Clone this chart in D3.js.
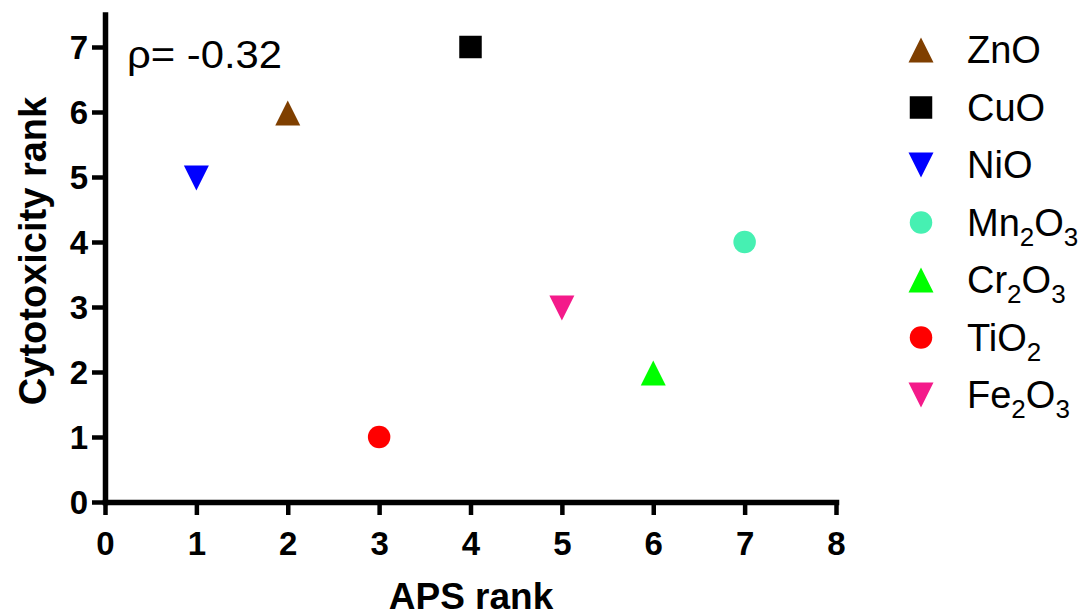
<!DOCTYPE html>
<html>
<head>
<meta charset="utf-8">
<script src="https://cdn.jsdelivr.net/npm/d3@7"></script>
<style>
  html, body { margin: 0; padding: 0; background: #fff; }
  svg { display: block; font-family: "Liberation Sans", Arial, sans-serif; }
</style>
</head>
<body>
<svg id="chart" width="1090" height="614"></svg>
<script>
// Oxide nanoparticles: APS rank vs cytotoxicity rank
const oxides      = ["ZnO", "CuO", "NiO", "Mn2O3", "Cr2O3", "TiO2", "Fe2O3"];
const apsRank     = [2, 4, 1, 7, 6, 3, 5];
const cytoRank    = [6, 7, 5, 4, 2, 1, 3];
const shapes      = ["triangle", "square", "triangleDown", "circle", "triangle", "circle", "triangleDown"];
const colors      = ["#7f3f00", "#000000", "#0000ff", "#46f0b2", "#00ff00", "#ff0000", "#f41a8a"];
const xTicks      = [0, 1, 2, 3, 4, 5, 6, 7, 8];
const yTicks      = [0, 1, 2, 3, 4, 5, 6, 7];
const rhoLabel    = "ρ= -0.32";

const svg = d3.select("#chart");

const x = d3.scaleLinear().domain([0, 8]).range([105, 836]);
const y = d3.scaleLinear().domain([0, 7.5]).range([502, 14.5]);

// marker path generator, centred on the bounding box
function markerPath(shape, s) {
  const h = s / 2;
  switch (shape) {
    case "triangle":     return `M0,${-h}L${h},${h}L${-h},${h}Z`;
    case "triangleDown": return `M0,${h}L${h},${-h}L${-h},${-h}Z`;
    case "square":       return `M${-h * 0.9},${-h * 0.9}H${h * 0.9}V${h * 0.9}H${-h * 0.9}Z`;
    default:             return d3.symbol(d3.symbolCircle, Math.PI * (h * 0.9) * (h * 0.9))();
  }
}

// axes
const xAxis = svg.append("g")
  .attr("transform", `translate(0,${y(0)})`)
  .call(d3.axisBottom(x).tickValues(xTicks).tickFormat(d3.format("d"))
        .tickSize(13).tickSizeOuter(0).tickPadding(17));
const yAxis = svg.append("g")
  .attr("transform", `translate(${x(0)},0)`)
  .call(d3.axisLeft(y).tickValues(yTicks).tickFormat(d3.format("d"))
        .tickSize(13).tickSizeOuter(0).tickPadding(4));

[xAxis, yAxis].forEach(g => {
  g.select(".domain").attr("stroke", "#000").attr("stroke-width", 5.5).attr("stroke-linecap", "square");
  g.selectAll(".tick line").attr("stroke", "#000").attr("stroke-width", 4.5);
  g.selectAll(".tick text")
    .attr("fill", "#000")
    .style("font-family", "'Liberation Sans', Arial, sans-serif")
    .style("font-size", "33px")
    .style("font-weight", "bold");
});
yAxis.selectAll(".tick text").attr("dy", "0.36em");

// axis titles
svg.append("text")
  .attr("x", 471).attr("y", 609)
  .attr("text-anchor", "middle")
  .style("font-size", "37px").style("font-weight", "bold")
  .text("APS rank");
svg.append("text")
  .attr("transform", "translate(46,251) rotate(-90)")
  .attr("text-anchor", "middle")
  .style("font-size", "38px").style("font-weight", "bold")
  .text("Cytotoxicity rank");

// correlation annotation
svg.append("text")
  .attr("x", 127).attr("y", 68)
  .attr("textLength", 155).attr("lengthAdjust", "spacingAndGlyphs")
  .style("font-size", "39px")
  .text(rhoLabel);

// points
svg.append("g").selectAll("path")
  .data(oxides.map((name, i) => ({ name, ax: apsRank[i], cy: cytoRank[i], shape: shapes[i], color: colors[i] })))
  .join("path")
  .attr("transform", d => `translate(${x(d.ax)},${y(d.cy) + (d.shape.startsWith("triangle") ? 1 : 0)})`)
  .attr("d", d => markerPath(d.shape, 25))
  .attr("fill", d => d.color);

// legend with chemical subscripts
const legendY = d3.scalePoint().domain(oxides).range([50, 395]);
const legend = svg.append("g");
oxides.forEach((name, i) => {
  const row = legend.append("g").attr("transform", `translate(0,${legendY(name)})`);
  row.append("path")
    .attr("transform", "translate(921,0)")
    .attr("d", markerPath(shapes[i], 25))
    .attr("fill", colors[i]);
  const t = row.append("text").attr("x", 967).attr("y", 13).style("font-size", "38px");
  let shift = 0; // current baseline offset of the running text
  name.split(/(\d+)/).filter(s => s.length).forEach(part => {
    const isSub = /^\d+$/.test(part);
    const target = isSub ? 10 : 0;
    const span = t.append("tspan").attr("dy", target - shift).text(part);
    if (isSub) span.style("font-size", "26px");
    shift = target;
  });
});
</script>
</body>
</html>
